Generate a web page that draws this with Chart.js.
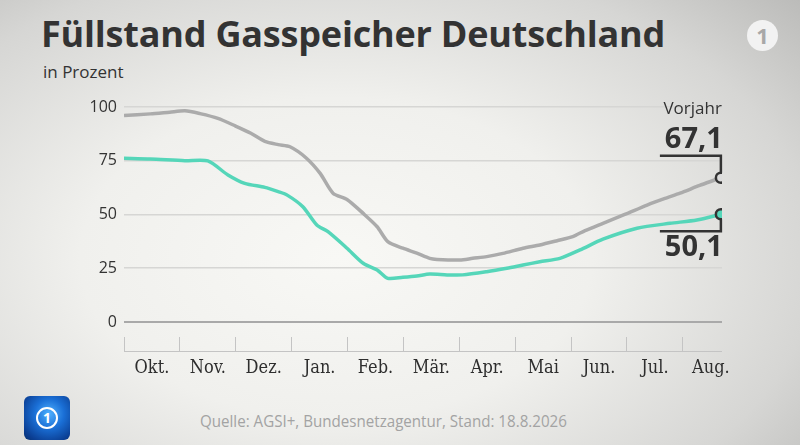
<!DOCTYPE html>
<html>
<head>
<meta charset="utf-8">
<script src="https://cdn.jsdelivr.net/npm/chart.js@4.4.1/dist/chart.umd.min.js"></script>
<style>
  html, body { margin: 0; padding: 0; }
  body {
    width: 800px; height: 445px; position: relative; overflow: hidden;
    background: radial-gradient(ellipse 80% 90% at 42% 58%, #f8f8f5 0%, #f0f0ed 40%, #d6d6d4 75%, #b8b8b6 100%);
    font-family: "Open Sans", sans-serif; color: #333;
  }
  #title { position: absolute; left: 41px; top: 9px; font-size: 36px; font-weight: 700; letter-spacing: -0.2px; white-space: nowrap; }
  #sub { position: absolute; left: 43px; top: 60px; font-size: 17px; }
  #quelle { position: absolute; left: 200px; top: 409px; font-size: 17px; color: #a3a3a3; white-space: nowrap;
            transform: scaleX(0.89); transform-origin: left center; }
  #ard { position: absolute; left: 747px; top: 20px; width: 31px; height: 31px; border-radius: 50%; background: #f2f2f2;
         color: #a8a8a8; font: 700 22px/31px "Open Sans", sans-serif; text-align: center; }
  #ts { position: absolute; left: 24px; top: 396px; width: 46px; height: 44px; border-radius: 6px;
        background: radial-gradient(circle at 55% 40%, #4fb0ff 0%, #1a6fd6 40%, #0b3f94 80%, #07306f 100%); }
  #ts div { position: absolute; left: 12px; top: 11px; width: 18px; height: 18px; border: 2px solid #fff; border-radius: 50%;
            color: #fff; font: 700 14px/18px "Open Sans", sans-serif; text-align: center; }
  #wrap { position: absolute; left: 0; top: 0; width: 800px; height: 445px; }
</style>
</head>
<body>
<div id="title">Füllstand Gasspeicher Deutschland</div>
<div id="sub">in Prozent</div>
<div id="ard">1</div>
<div id="ts"><div>1</div></div>
<div id="quelle">Quelle: AGSI+, Bundesnetzagentur, Stand: 18.8.2026</div>
<div id="wrap"><canvas id="gasChart"></canvas></div>
<script>
// Monate (Beschriftung mittig zwischen den Monatsanfängen)
var monate = ["Okt.", "Nov.", "Dez.", "Jan.", "Feb.", "Mär.", "Apr.", "Mai", "Jun.", "Jul.", "Aug."];
var yTicks = [0, 25, 50, 75, 100];

// x = Monate seit 1. Oktober
var vorjahrX = [0, 0.47, 0.82, 1.09, 1.36, 1.68, 1.99, 2.27, 2.52, 2.76, 2.97, 3.26, 3.51, 3.74, 3.99, 4.28, 4.53, 4.72, 4.99, 5.24, 5.47, 5.60, 6.01, 6.24, 6.49, 6.78, 7.14, 7.44, 7.75, 8.03, 8.25, 8.57, 8.96, 9.36, 9.68, 9.95, 10.30, 10.61, 10.68];
var vorjahrWerte = [96.0, 96.8, 97.6, 98.2, 96.9, 94.7, 91.2, 87.8, 84.0, 82.5, 81.5, 76.3, 69.1, 59.9, 57.0, 50.5, 44.3, 37.4, 34.3, 32.0, 29.6, 29.1, 28.8, 29.6, 30.4, 31.9, 34.3, 35.8, 37.8, 39.7, 42.5, 45.9, 50.0, 54.4, 57.5, 59.9, 63.5, 66.4, 67.1];

var aktuellX = [0, 0.47, 1.09, 1.50, 1.86, 2.16, 2.52, 2.76, 2.92, 3.20, 3.45, 3.65, 3.99, 4.28, 4.53, 4.72, 4.99, 5.24, 5.47, 5.78, 6.06, 6.49, 6.85, 7.14, 7.44, 7.80, 8.16, 8.57, 9.18, 9.77, 10.25, 10.68];
var aktuellWerte = [76.1, 75.8, 75.0, 74.9, 68.4, 64.5, 62.6, 60.6, 59.0, 53.6, 45.1, 42.0, 34.3, 27.3, 24.2, 20.3, 20.8, 21.4, 22.3, 21.9, 21.9, 23.4, 25.0, 26.5, 28.0, 29.6, 33.5, 38.5, 43.6, 45.9, 47.4, 50.1];

function punkte(xs, ys) {
  return xs.map(function (x, i) { return { x: x, y: ys[i] }; });
}
function letzter(ctx) { return ctx.dataIndex === ctx.dataset.data.length - 1 ? 5 : 0; }

// Monatsanfänge (Striche) und Monatsmitten (Beschriftung)
var xTicks = [];
monate.forEach(function (m, i) { xTicks.push({ value: i }); xTicks.push({ value: i + 0.5 }); });

// Endwerte mit Verbindungslinie
var endwerte = {
  id: "endwerte",
  afterDatasetsDraw: function (chart) {
    var c = chart.ctx;
    var xs = chart.scales.x;
    c.save();
    c.strokeStyle = "#333";
    c.lineWidth = 2.5;
    c.fillStyle = "#333";
    c.textAlign = "right";
    chart.data.datasets.forEach(function (ds, i) {
      var pts = chart.getDatasetMeta(i).data;
      var p = pts[pts.length - 1];
      var wert = ds.data[ds.data.length - 1].y.toFixed(1).replace(".", ",");
      var oben = i === 0;
      var yLinie = oben ? p.y - 22 : p.y + 17;
      c.beginPath();
      c.moveTo(p.x, oben ? p.y - 5 : p.y + 5);
      c.lineTo(p.x, yLinie);
      c.lineTo(p.x - 61, yLinie);
      c.stroke();
      c.font = "700 29px 'Open Sans', sans-serif";
      c.textBaseline = oben ? "bottom" : "top";
      c.fillText(wert, p.x + 2, oben ? yLinie - 1 : yLinie + 2);
      if (oben) {
        c.font = "17px 'Open Sans', sans-serif";
        c.textBaseline = "bottom";
        c.fillText("Vorjahr", p.x + 1, yLinie - 38);
      }
    });
    // Grundlinie unter den Monatsstrichen
    c.strokeStyle = "#c4c4c4";
    c.lineWidth = 1;
    c.beginPath();
    c.moveTo(xs.left, chart.chartArea.bottom + 14.5);
    c.lineTo(xs.right, chart.chartArea.bottom + 14.5);
    c.stroke();
    c.restore();
  }
};

new Chart("gasChart", {
  type: "line",
  data: {
    datasets: [{
      label: "Vorjahr",
      data: punkte(vorjahrX, vorjahrWerte),
      borderColor: "#ababab",
      borderWidth: 3.5,
      tension: 0.25,
      pointRadius: letzter,
      pointBorderColor: "#333",
      pointBackgroundColor: "#dcdcdc",
      pointBorderWidth: 2.5
    }, {
      label: "Aktuell",
      data: punkte(aktuellX, aktuellWerte),
      borderColor: "#55d6b9",
      borderWidth: 3.5,
      tension: 0.25,
      pointRadius: letzter,
      pointBorderColor: "#333",
      pointBackgroundColor: "#55d6b9",
      pointBorderWidth: 2.5
    }]
  },
  options: {
    responsive: true,
    maintainAspectRatio: false,
    animation: false,
    layout: { padding: { top: 107, right: 78, left: 0, bottom: 0 } },
    plugins: { legend: { display: false }, tooltip: { enabled: false } },
    scales: {
      x: {
        type: "linear",
        min: 0,
        max: 10.7,
        afterBuildTicks: function (s) { s.ticks = xTicks.slice(); },
        afterFit: function (s) { s.height = 108; },
        border: { display: false },
        grid: {
          drawOnChartArea: false,
          tickLength: 14,
          color: function (ctx) { return ctx.tick && ctx.tick.value % 1 === 0 ? "#c4c4c4" : "rgba(0,0,0,0)"; }
        },
        ticks: {
          autoSkip: false,
          maxRotation: 0,
          padding: 7,
          color: "#2e2e2e",
          font: { family: "'DejaVu Serif Condensed', 'DejaVu Serif', serif", size: 18 },
          callback: function (v) { return v % 1 === 0 ? "" : monate[Math.floor(v)]; }
        }
      },
      y: {
        min: -7,
        max: 100,
        afterBuildTicks: function (s) { s.ticks = yTicks.map(function (v) { return { value: v }; }); },
        afterFit: function (s) { s.width = 124; },
        border: { display: false },
        grid: {
          drawTicks: false,
          color: function (ctx) { return ctx.tick && ctx.tick.value === 0 ? "#a9a9a9" : "#d6d6d4"; },
          lineWidth: function (ctx) { return ctx.tick && ctx.tick.value === 0 ? 2 : 1.5; }
        },
        ticks: {
          padding: 7,
          color: "#333",
          font: { family: "'Open Sans', sans-serif", size: 16 }
        }
      }
    }
  },
  plugins: [endwerte]
});
</script>
</body>
</html>
